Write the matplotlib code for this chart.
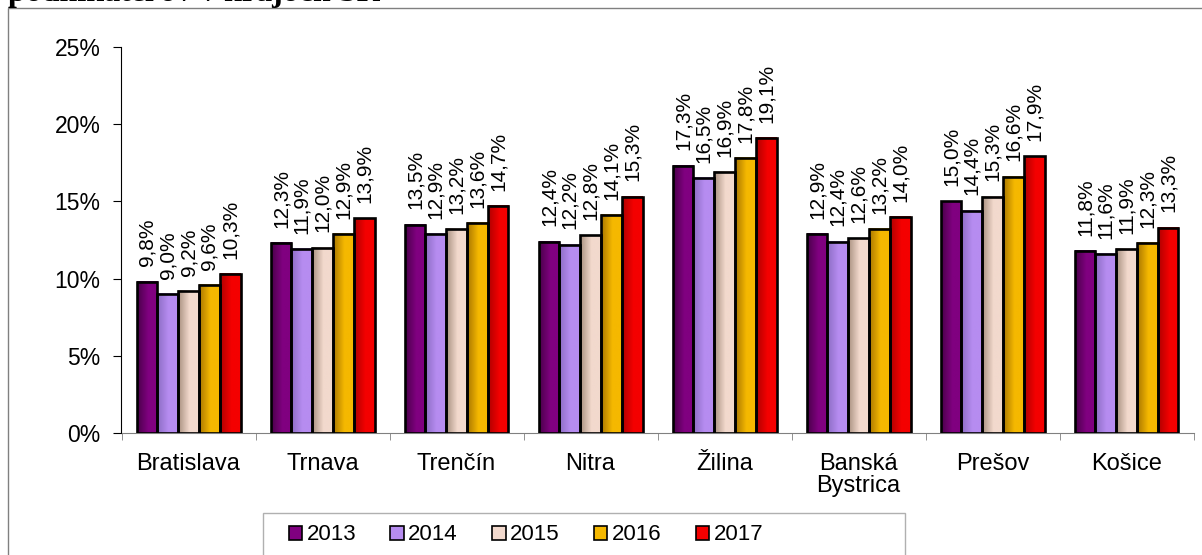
import numpy as np
import matplotlib
matplotlib.use("Agg")
import matplotlib.pyplot as plt
from matplotlib.colors import LinearSegmentedColormap
from matplotlib.patches import Patch, Rectangle

plt.rcParams['font.family'] = ['Liberation Sans', 'DejaVu Sans']

# data
regions = ['Bratislava', 'Trnava', 'Trenčín', 'Nitra', 'Žilina',
           'Banská\nBystrica', 'Prešov', 'Košice']
years = ['2013', '2014', '2015', '2016', '2017']
v2013 = [9.8, 12.3, 13.5, 12.4, 17.3, 12.9, 15.0, 11.8]
v2014 = [9.0, 11.9, 12.9, 12.2, 16.5, 12.4, 14.4, 11.6]
v2015 = [9.2, 12.0, 13.2, 12.8, 16.9, 12.6, 15.3, 11.9]
v2016 = [9.6, 12.9, 13.6, 14.1, 17.8, 13.2, 16.6, 12.3]
v2017 = [10.3, 13.9, 14.7, 15.3, 19.1, 14.0, 17.9, 13.3]
series = [v2013, v2014, v2015, v2016, v2017]

# bar colours: (dark left edge, main colour)
colors = [('#4a004a', '#800080'),
          ('#8c6cc4', '#b68cf0'),
          ('#a8907f', '#f2d9cd'),
          ('#a87600', '#f5b800'),
          ('#b00000', '#f40000')]

fig = plt.figure(figsize=(12.02, 5.55), dpi=100)
ax = fig.add_axes([121.5 / 1202, 1 - 433.3 / 555, (1193.5 - 121.5) / 1202, (433.3 - 46.7) / 555])

x = np.arange(len(regions))
w = 104 / 134 / 5
grad = np.linspace(0, 1, 64).reshape(1, -1)

for j, vals in enumerate(series):
    dark, base = colors[j]
    cmap = LinearSegmentedColormap.from_list('g%d' % j, [(0, dark), (0.55, base), (1, base)])
    pos = x + (j - 2) * w
    for xi, v in zip(pos, vals):
        ax.imshow(grad, cmap=cmap, aspect='auto', extent=(xi - w / 2, xi + w / 2, 0, v), zorder=2)
        ax.annotate(('%.1f%%' % v).replace('.', ','), (xi, v), xytext=(0, 11),
                    textcoords='offset points', rotation=90, ha='center', va='bottom',
                    fontsize=15)
    ax.bar(pos, vals, width=w, facecolor='none', edgecolor='black', linewidth=1.9, zorder=3)

ax.set_xlim(-0.5, len(regions) - 0.5)
ax.set_ylim(0, 25)
ax.set_yticks([0, 5, 10, 15, 20, 25])
ax.set_yticklabels(['%d%%' % t for t in [0, 5, 10, 15, 20, 25]], fontsize=16.5)
ax.set_xticks(x)
ax.set_xticklabels(regions, fontsize=17, linespacing=1.0)
ax.set_xticks(np.arange(len(regions) + 1) - 0.5, minor=True)
ax.tick_params(axis='x', which='major', length=0, pad=14)
ax.tick_params(axis='x', which='minor', length=5, color='#808080', direction='out')
ax.tick_params(axis='y', length=6, pad=9, color='black')

for s in ['top', 'right']:
    ax.spines[s].set_visible(False)
ax.spines['bottom'].set_color('#808080')
ax.spines['left'].set_color('black')

# legend
handles = [Patch(facecolor=c[1], edgecolor='black', linewidth=1.2) for c in colors]
fig.legend(handles, years, loc='center', bbox_to_anchor=(526 / 1202, 1 - 535 / 555),
           ncol=5, frameon=False, fontsize=16, handlelength=0.6, handleheight=0.6,
           handletextpad=0.2, columnspacing=1.55)
fig.add_artist(Rectangle((263 / 1202, -0.05), (905 - 263) / 1202, 0.05 + (555 - 513) / 555,
                         transform=fig.transFigure, fill=False, edgecolor='#b0b0b0', linewidth=1))

# outer frame and clipped heading
fig.add_artist(Rectangle((8 / 1202, -0.05), 1.1, 1.05 - 8 / 555, transform=fig.transFigure,
                         fill=False, edgecolor='#808080', linewidth=1))
fig.text(8 / 1202, 1 - 1 / 555, 'podnikateľov v krajoch SR', va='baseline', ha='left',
         fontsize=23, fontweight='bold', family='Liberation Serif')

fig.savefig('out.png', dpi=100)
